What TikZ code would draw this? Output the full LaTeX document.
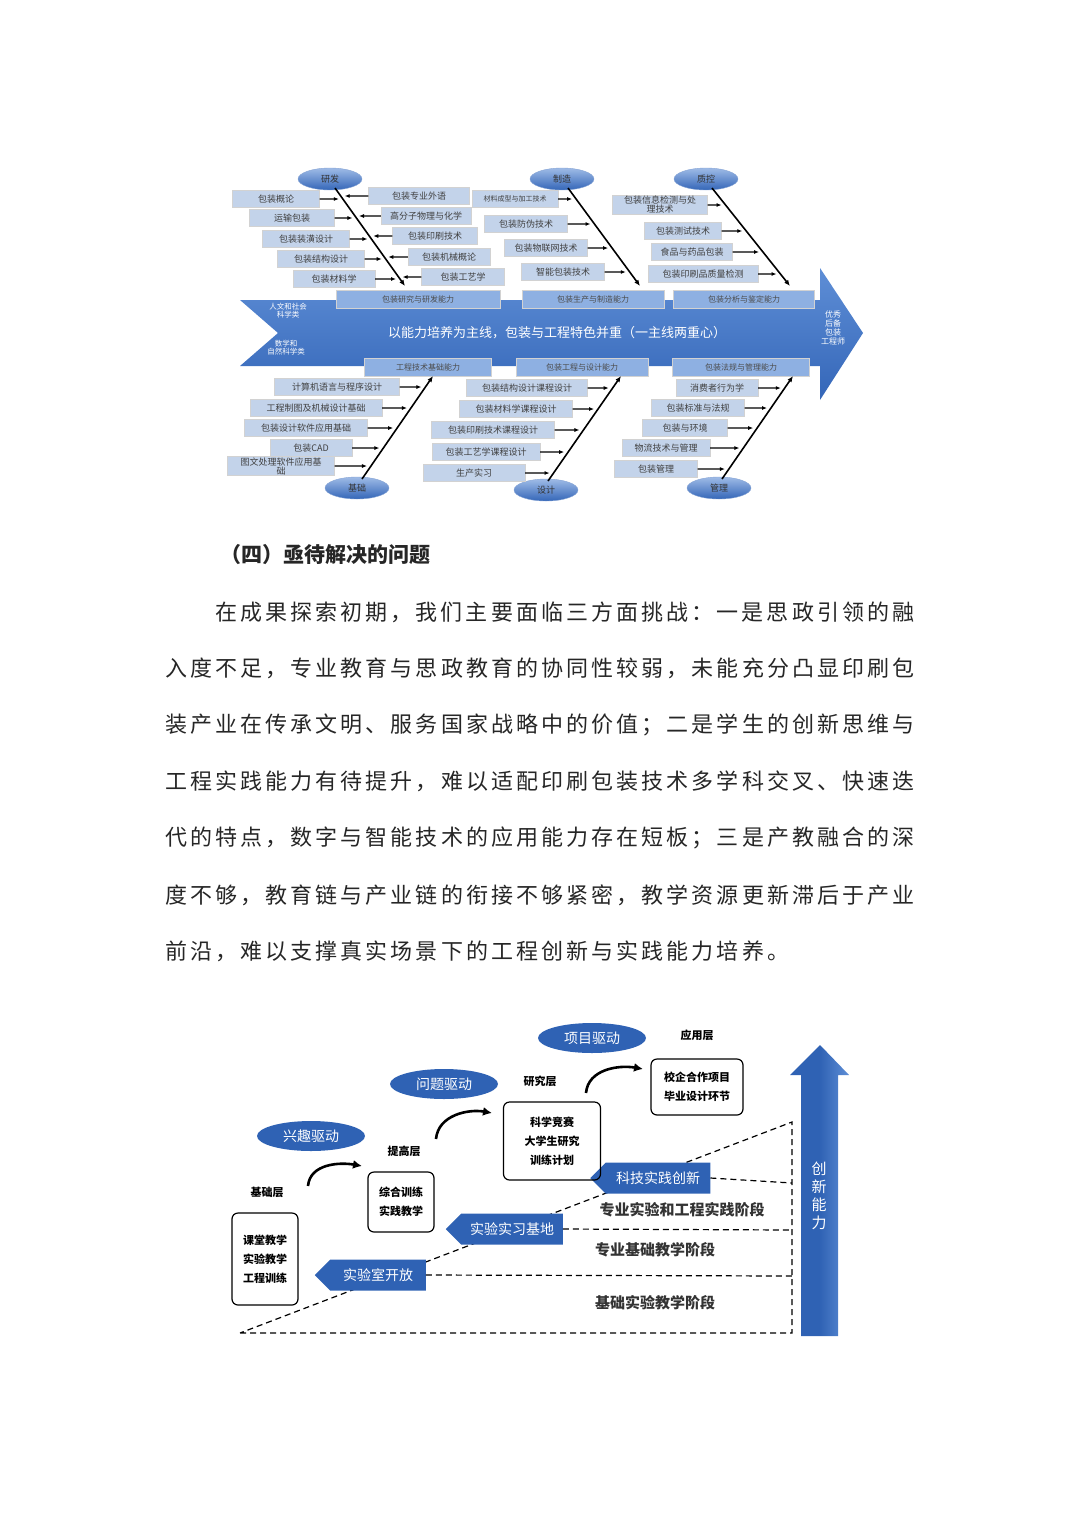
\documentclass[tikz,border=0pt]{standalone}
\usepackage{fontspec}
\setmainfont{Noto Sans CJK SC}
\newfontfamily\bodyf[LetterSpace=14]{Noto Sans CJK SC}
\usetikzlibrary{calc,shapes.geometric,shapes.arrows,arrows.meta}
\definecolor{spine}{HTML}{3466B8}
\definecolor{spinel}{HTML}{5E8ED6}
\definecolor{itemf}{HTML}{C3D3EA}
\definecolor{dblue}{HTML}{2F62B4}
\newcommand\lb[6]{\node[item,minimum width=#4] (#1) at (#2,#3) {#5};
 \coordinate (#1h) at ($(#1.east)+(10,0)$);
 \coordinate (#1x) at (intersection of #1.east--#1h and #6a--#6b);
 \draw[twig] (#1.east) -- (#1x);}
\newcommand\rb[6]{\node[item,minimum width=#4] (#1) at (#2,#3) {#5};
 \coordinate (#1h) at ($(#1.west)+(-10,0)$);
 \coordinate (#1x) at (intersection of #1.west--#1h and #6a--#6b);
 \draw[twig] (#1.west) -- (#1x);}
\begin{document}
\begin{tikzpicture}[x=1pt,y=-1pt,
 item/.style={draw=gray!35,fill=itemf,minimum height=17,inner sep=1,font=\fontsize{9}{9}\selectfont,text=black!75,align=center},
 capbox/.style={draw=gray!35,fill=spinel!70,minimum height=18,font=\fontsize{8}{9}\selectfont,text=black!70},
 twig/.style={-{Latex[length=5,width=4]},line width=1.1,shorten >=4},
 bone/.style={-{Latex[length=6,width=5]},line width=1.6},
 fell/.style={ellipse,minimum width=64,minimum height=22,inner sep=0,top color=spinel!60,bottom color=spine,draw=spine!60,font=\fontsize{9}{10}\selectfont,text=black!80},
 bell/.style={ellipse,fill=dblue,minimum width=108,minimum height=30,inner sep=0,text=white,font=\fontsize{14}{15}\selectfont},
 lay/.style={font=\bfseries\fontsize{11}{12}\selectfont},
 rbox/.style={draw,line width=1.2,rounded corners=6,align=center,font=\bfseries\fontsize{11}{19}\selectfont},
 parr/.style={single arrow,shape border rotate=180,single arrow head extend=0,fill=dblue,text=white,minimum width=31,inner sep=2,font=\fontsize{14}{15}\selectfont},
 curv/.style={line width=2.6,-{Latex[length=9,width=9]}},
 dsh/.style={dashed,line width=1.2,dash pattern=on 6 off 4},
 stg/.style={font=\bfseries\fontsize{15}{16}\selectfont,text=black!80},
 para/.style={anchor=west,inner sep=0,font=\bodyf\fontsize{22}{22}\selectfont,text=black!85}]
\useasboundingbox (0,0) rectangle (1080,1528);
% ===== fishbone =====
\shade[top color=spinel,bottom color=spine] (240,300) -- (820,300) -- (820,268) -- (863,333) -- (820,400) -- (820,366) -- (240,366) -- (278,333) -- cycle;
\node[font=\fontsize{7.5}{8}\selectfont,text=white,align=center] (hum) at (288,311) {人文和社会\\科学类};
\node[font=\fontsize{7.5}{8}\selectfont,text=white,align=center] (sci) at (286,348) {数学和\\自然科学类};
\node[font=\fontsize{13}{14}\selectfont,text=white] (main) at (557,333) {以能力培养为主线，包装与工程特色并重（一主线两重心）};
\node[font=\fontsize{8}{9}\selectfont,text=white,align=center] (goal) at (833,328) {优秀\\后备\\包装\\工程师};
\node[capbox,minimum width=164] (c1) at (418,299) {包装研究与研发能力};
\node[capbox,minimum width=142] (c2) at (593,299) {包装生产与制造能力};
\node[capbox,minimum width=141] (c3) at (744,299) {包装分析与鉴定能力};
\node[capbox,minimum width=127] (c4) at (428,367) {工程技术基础能力};
\node[capbox,minimum width=132] (c5) at (582,367) {包装工程与设计能力};
\node[capbox,minimum width=137] (c6) at (741,367) {包装法规与管理能力};
% top ellipses & bones
\node[fell] (e1) at (330,179) {研发};
\node[fell] (e2) at (562,179) {制造};
\node[fell] (e3) at (706,179) {质控};
\coordinate (rfa) at (335,188); \coordinate (rfb) at (405,286);
\coordinate (zza) at (568,188); \coordinate (zzb) at (640,286);
\coordinate (zka) at (712,188); \coordinate (zkb) at (790,286);
\draw[bone] (rfa) -- (rfb); \draw[bone] (zza) -- (zzb); \draw[bone] (zka) -- (zkb);
\lb{a1}{276}{199}{87}{包装概论}{rf}
\lb{a2}{292}{218}{85}{运输包装}{rf}
\lb{a3}{306}{239}{87}{包装装潢设计}{rf}
\lb{a4}{321}{259}{87}{包装结构设计}{rf}
\lb{a5}{334}{279}{82}{包装材料学}{rf}
\rb{b1}{419}{196}{101}{包装专业外语}{rf}
\rb{b2}{426}{216}{90}{高分子物理与化学}{rf}
\rb{b3}{435}{236}{85}{包装印刷技术}{rf}
\rb{b4}{449}{257}{82}{包装机械概论}{rf}
\rb{b5}{463}{277}{83}{包装工艺学}{rf}
\lb{m1}{515}{199}{86}{{\fontsize{7}{8}\selectfont 材料成型与加工技术}}{zz}
\lb{m2}{526}{224}{83}{包装防伪技术}{zz}
\lb{m3}{546}{248}{83}{包装物联网技术}{zz}
\lb{m4}{563}{272}{83}{智能包装技术}{zz}
\lb{q1}{660}{205}{95}{包装信息检测与处\\理技术}{zk}
\lb{q2}{683}{231}{77}{包装测试技术}{zk}
\lb{q3}{692}{252}{81}{食品与药品包装}{zk}
\lb{q4}{703}{274}{110}{包装印刷品质量检测}{zk}
% bottom ellipses & bones
\node[fell] (e4) at (357,488) {基础};
\node[fell] (e5) at (546,490) {设计};
\node[fell] (e6) at (719,488) {管理};
\coordinate (jcb) at (362,479); \coordinate (jca) at (433,376);
\coordinate (sjb) at (548,481); \coordinate (sja) at (621,376);
\coordinate (glb) at (722,479); \coordinate (gla) at (793,376);
\draw[bone] (jcb) -- (jca); \draw[bone] (sjb) -- (sja); \draw[bone] (glb) -- (gla);
\lb{d1}{337}{387}{125}{计算机语言与程序设计}{jc}
\lb{d2}{316}{408}{132}{工程制图及机械设计基础}{jc}
\lb{d3}{306}{428}{123}{包装设计软件应用基础}{jc}
\lb{d4}{311}{448}{82}{包装CAD}{jc}
\lb{d5}{281}{466}{107}{图文处理软件应用基\\础}{jc}
\lb{s1}{527}{388}{121}{包装结构设计课程设计}{sj}
\lb{s2}{516}{409}{113}{包装材料学课程设计}{sj}
\lb{s3}{493}{430}{123}{包装印刷技术课程设计}{sj}
\lb{s4}{486}{452}{108}{包装工艺学课程设计}{sj}
\lb{s5}{474}{473}{102}{生产实习}{sj}
\lb{g1}{717}{388}{82}{消费者行为学}{gl}
\lb{g2}{698}{408}{93}{包装标准与法规}{gl}
\lb{g3}{685}{428}{85}{包装与环境}{gl}
\lb{g4}{666}{448}{88}{物流技术与管理}{gl}
\lb{g5}{656}{469}{83}{包装管理}{gl}
% ===== text =====
\node[anchor=west,inner sep=0,font=\bfseries\fontsize{21}{22}\selectfont,text=black!85] (head) at (220,555) {（四）亟待解决的问题};
\node[para] (p1) at (215,612) {在成果探索初期，我们主要面临三方面挑战：一是思政引领的融};
\node[para] (p2) at (165,668) {入度不足，专业教育与思政教育的协同性较弱，未能充分凸显印刷包};
\node[para] (p3) at (165,725) {装产业在传承文明、服务国家战略中的价值；二是学生的创新思维与};
\node[para] (p4) at (165,781) {工程实践能力有待提升，难以适配印刷包装技术多学科交叉、快速迭};
\node[para] (p5) at (165,838) {代的特点，数字与智能技术的应用能力存在短板；三是产教融合的深};
\node[para] (p6) at (165,895) {度不够，教育链与产业链的衔接不够紧密，教学资源更新滞后于产业};
\node[para] (p7) at (165,951) {前沿，难以支撑真实场景下的工程创新与实践能力培养。};
% ===== bottom diagram =====
\coordinate (o) at (240,1333); \coordinate (br) at (792,1333); \coordinate (tr) at (792,1122);
\draw[dsh] (o) -- (br) -- (tr) -- cycle;
\node[parr,minimum height=111] (w1) at (378,1275) {实验室开放};
\node[parr,minimum height=117] (w2) at (512,1229) {实验实习基地};
\node[parr,minimum height=120] (w3) at (658,1178) {科技实践创新};
\coordinate (h1) at (792,1276); \coordinate (h2) at (792,1230); \coordinate (h3) at (792,1183);
\draw[dsh] (w1.east) -- (h1); \draw[dsh] (w2.east) -- (h2); \draw[dsh] (w3.east) -- (h3);
\node[stg] (t1) at (655,1303) {基础实验教学阶段};
\node[stg] (t2) at (655,1250) {专业基础教学阶段};
\node[stg] (t3) at (682,1210) {专业实验和工程实践阶段};
\shade[left color=dblue,right color=spinel,middle color=dblue] (801,1336) -- (801,1075) -- (790,1075) -- (820,1045) -- (849,1075) -- (838,1075) -- (838,1336) -- cycle;
\node[align=center,text=white,font=\fontsize{15}{18}\selectfont] (cx) at (819,1196) {创\\新\\能\\力};
\node[bell] (v1) at (311,1136) {兴趣驱动};
\node[bell] (v2) at (444,1084) {问题驱动};
\node[bell] (v3) at (592,1038) {项目驱动};
\node[lay] (l1) at (267,1192) {基础层};
\node[lay] (l2) at (404,1151) {提高层};
\node[lay] (l3) at (540,1081) {研究层};
\node[lay] (l4) at (697,1035) {应用层};
\node[rbox,minimum width=66,minimum height=92] (r1) at (265,1259) {课堂教学\\实验教学\\工程训练};
\node[rbox,minimum width=66,minimum height=60] (r2) at (401,1202) {综合训练\\实践教学};
\node[rbox,minimum width=97,minimum height=78] (r3) at (552,1141) {科学竞赛\\大学生研究\\训练计划};
\node[rbox,minimum width=92,minimum height=56] (r4) at (697,1087) {校企合作项目\\毕业设计环节};
\coordinate (k1a) at (308,1186); \coordinate (k1b) at (362,1166);
\coordinate (k2a) at (436,1139); \coordinate (k2b) at (492,1113);
\coordinate (k3a) at (586,1093); \coordinate (k3b) at (643,1069);
\draw[curv] (k1a) to[out=85,in=170] (k1b);
\draw[curv] (k2a) to[out=85,in=170] (k2b);
\draw[curv] (k3a) to[out=85,in=170] (k3b);
\end{tikzpicture}
\end{document}
